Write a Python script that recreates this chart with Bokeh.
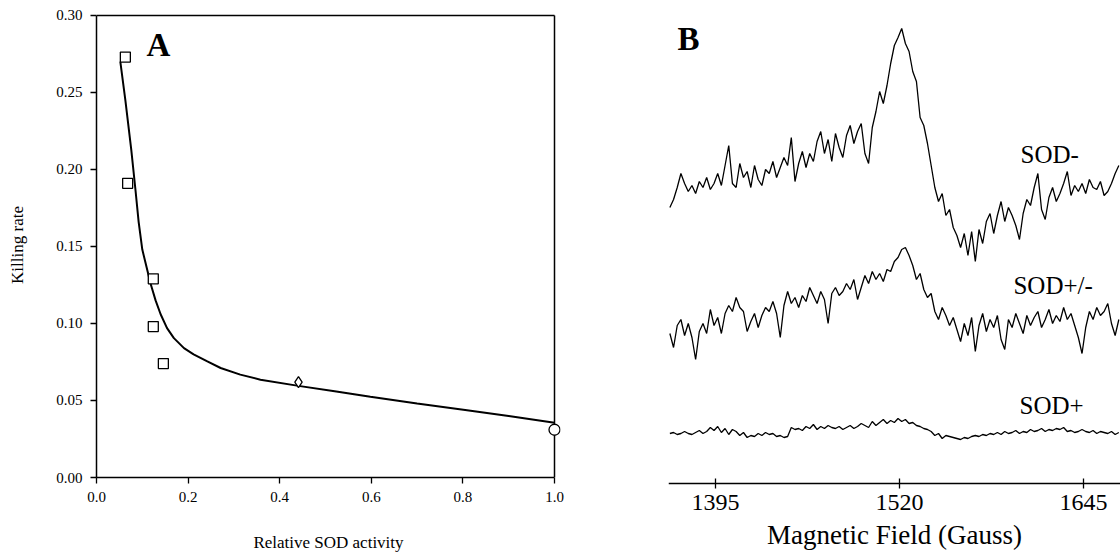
from bokeh.plotting import figure
from bokeh.layouts import row, column
from bokeh.models import Range1d, FixedTicker, NumeralTickFormatter
from bokeh.core.properties import value
from bokeh.embed import file_html
from bokeh.resources import INLINE

SERIF = "Liberation Serif"

# ---------------- Panel A data ----------------
square_x = [0.063, 0.068, 0.124, 0.124, 0.146]
square_y = [0.273, 0.191, 0.129, 0.098, 0.074]
diamond_x = [0.441]
diamond_y = [0.062]
circle_x = [1.0]
circle_y = [0.031]
curve_x = [0.052, 0.063, 0.076, 0.085, 0.092, 0.100, 0.109, 0.118, 0.129,
           0.140, 0.154, 0.169, 0.191, 0.212, 0.242, 0.271, 0.314, 0.358,
           0.441, 0.520, 0.598, 0.700, 0.801, 0.900, 1.0]
curve_y = [0.270, 0.245, 0.2126, 0.187, 0.166, 0.148, 0.137, 0.126, 0.115,
           0.106, 0.097, 0.0905, 0.084, 0.080, 0.0754, 0.0711, 0.0668, 0.0635,
           0.0595, 0.056, 0.0525, 0.048, 0.044, 0.040, 0.0355]
a_xticks = [0.0, 0.2, 0.4, 0.6, 0.8, 1.0]
a_yticks = [0.00, 0.05, 0.10, 0.15, 0.20, 0.25, 0.30]

# ---------------- Panel B data ----------------
field_start = 1364.0   # Gauss
field_step = 2.5       # Gauss per sample
b_xticks = [1395, 1520, 1645]
trace_labels = ["SOD-", "SOD+/-", "SOD+"]

sod_minus = [276, 284, 296, 310, 300, 292, 298, 290, 302, 296,
             306, 294, 300, 310, 298, 318, 338, 300, 296, 320,
             306, 312, 296, 318, 304, 298, 314, 310, 322, 306,
             316, 326, 318, 346, 302, 320, 332, 316, 330, 322,
             342, 352, 330, 344, 322, 350, 336, 326, 348, 358,
             340, 352, 360, 330, 320, 356, 372, 392, 380, 398,
             420, 438, 446, 455, 440, 432, 412, 402, 366, 358,
             340, 318, 296, 282, 290, 268, 274, 256, 248, 236,
             250, 228, 252, 222, 254, 240, 262, 270, 250, 268,
             282, 262, 276, 268, 258, 244, 270, 284, 278, 296,
             310, 274, 264, 286, 296, 282, 290, 300, 312, 288,
             298, 292, 300, 290, 304, 296, 294, 302, 288, 292,
             300, 310, 318]

sod_mid = [150, 136, 158, 164, 148, 160, 146, 124, 152, 160,
           150, 174, 158, 166, 150, 170, 178, 172, 186, 176,
           172, 152, 162, 170, 156, 168, 176, 172, 182, 170,
           146, 178, 192, 180, 186, 176, 188, 182, 196, 188,
           180, 192, 184, 160, 190, 196, 188, 192, 200, 194,
           204, 184, 196, 208, 200, 212, 204, 210, 202, 214,
           212, 222, 226, 234, 236, 228, 218, 204, 210, 194,
           186, 190, 172, 164, 176, 168, 158, 166, 154, 142,
           160, 148, 166, 132, 158, 170, 152, 164, 156, 168,
           144, 134, 164, 156, 170, 160, 150, 168, 158, 166,
           172, 156, 164, 174, 160, 168, 162, 176, 164, 170,
           158, 146, 130, 156, 172, 164, 176, 168, 172, 180,
           160, 148, 164]

sod_plus = [50, 51, 49, 50, 52, 50, 49, 51, 53, 50,
            52, 56, 53, 57, 51, 55, 49, 54, 52, 48,
            51, 46, 48, 47, 50, 48, 51, 49, 50, 47,
            48, 46, 47, 56, 54, 55, 53, 57, 55, 59,
            54, 57, 55, 58, 56, 55, 57, 54, 56, 58,
            55, 57, 60, 58, 56, 62, 58, 61, 64, 60,
            63, 61, 65, 62, 64, 60, 61, 58, 57, 55,
            54, 52, 48, 50, 45, 48, 47, 46, 45, 44,
            46, 45, 47, 48, 47, 49, 48, 50, 49, 51,
            49, 52, 50, 51, 53, 50, 52, 51, 54, 52,
            53, 55, 52, 54, 53, 55, 54, 56, 52, 53,
            51, 52, 54, 52, 51, 53, 50, 52, 51, 50,
            52, 49, 51]

# ---------------- Panel A ----------------
X_END = 1.0131
Y_END = 0.30194
pa = figure(width=640, height=554, output_backend="svg", toolbar_location=None,
            x_range=Range1d(0, X_END), y_range=Range1d(0, Y_END),
            min_border_left=96, min_border_right=80, min_border_top=12,
            min_border_bottom=76)
pa.background_fill_color = "white"
pa.border_fill_color = "white"
pa.grid.visible = False
pa.outline_line_color = None

for ax in (pa.xaxis[0], pa.yaxis[0]):
    ax.axis_line_color = "black"
    ax.axis_line_width = 1.5
    ax.major_tick_line_color = "black"
    ax.major_tick_line_width = 1.3
    ax.major_tick_in = 0
    ax.major_tick_out = 6
    ax.minor_tick_line_color = None
    ax.major_label_text_font = SERIF
    ax.major_label_text_font_size = "15px"
    ax.major_label_text_color = "black"
    ax.axis_label_text_font = SERIF
    ax.axis_label_text_font_style = "normal"
    ax.axis_label_text_font_size = "17px"
    ax.axis_label_text_color = "black"
    ax.major_label_standoff = 8

pa.xaxis.ticker = FixedTicker(ticks=a_xticks)
pa.xaxis.formatter = NumeralTickFormatter(format="0.0")
pa.xaxis.axis_label = "Relative SOD activity"
pa.xaxis.axis_label_standoff = 28
pa.xaxis.bounds = (a_xticks[0], a_xticks[-1])
pa.yaxis.ticker = FixedTicker(ticks=a_yticks)
pa.yaxis.formatter = NumeralTickFormatter(format="0.00")
pa.yaxis.axis_label = "Killing rate"
pa.yaxis.axis_label_standoff = 26
pa.yaxis.bounds = (a_yticks[0], a_yticks[-1])

# top and right frame lines of the box
pa.segment(x0=[a_xticks[0], a_xticks[-1]], y0=[a_yticks[-1], a_yticks[0]],
           x1=[a_xticks[-1], a_xticks[-1]], y1=[a_yticks[-1], a_yticks[-1]],
           line_color="black", line_width=1.5)

pa.line(curve_x, curve_y, line_color="black", line_width=2)
pa.scatter(square_x, square_y, marker="square", size=10, fill_color="white",
           line_color="black", line_width=1.3)
pa.scatter(diamond_x, diamond_y, marker="diamond", size=11, fill_color="white",
           line_color="black", line_width=1.3)
pa.scatter(circle_x, circle_y, marker="circle", size=11, fill_color="white",
           line_color="black", line_width=1.3)
pa.text(x=[0.135], y=[0.281], text=["A"], text_font=value(SERIF),
        text_font_style="bold", text_font_size="33px", text_align="center",
        text_baseline="middle", text_color="black")

# ---------------- Panel B ----------------
n = len(sod_minus)
field = [field_start + field_step * i for i in range(n)]

pb = figure(width=480, height=554, output_backend="svg", toolbar_location=None,
            x_range=Range1d(1363.07, 1670.13), y_range=Range1d(-71, 483),
            y_axis_location=None,
            min_border_left=28, min_border_right=0, min_border_top=0,
            min_border_bottom=0)
pb.background_fill_color = "white"
pb.border_fill_color = "white"
pb.grid.visible = False
pb.outline_line_color = None

ax = pb.xaxis[0]
ax.fixed_location = 0
ax.ticker = FixedTicker(ticks=b_xticks)
ax.axis_line_color = "black"
ax.axis_line_width = 1.5
ax.major_tick_line_color = "black"
ax.major_tick_line_width = 1.3
ax.major_tick_in = 5
ax.major_tick_out = 5
ax.minor_tick_line_color = None
ax.major_label_text_font = SERIF
ax.major_label_text_font_size = "24px"
ax.major_label_text_color = "black"
ax.major_label_standoff = 6
ax.axis_label = "Magnetic Field (Gauss)"
ax.axis_label_text_font = SERIF
ax.axis_label_text_font_style = "normal"
ax.axis_label_text_font_size = "27px"
ax.axis_label_text_color = "black"
ax.axis_label_standoff = 7

for tr in (sod_minus, sod_mid, sod_plus):
    pb.line(field, tr, line_color="black", line_width=1.3)

pb.text(x=[1602.2, 1597.4, 1601.5], y=[329, 198, 78], text=trace_labels,
        text_font=value(SERIF), text_font_size="25px", text_align="left",
        text_baseline="middle", text_color="black")
pb.text(x=[1376.7], y=[445], text=["B"], text_font=value(SERIF),
        text_font_style="bold", text_font_size="33px", text_align="center",
        text_baseline="middle", text_color="black")

layout = row(pa, column(pb))
open("out.html", "w").write(file_html(layout, INLINE))
